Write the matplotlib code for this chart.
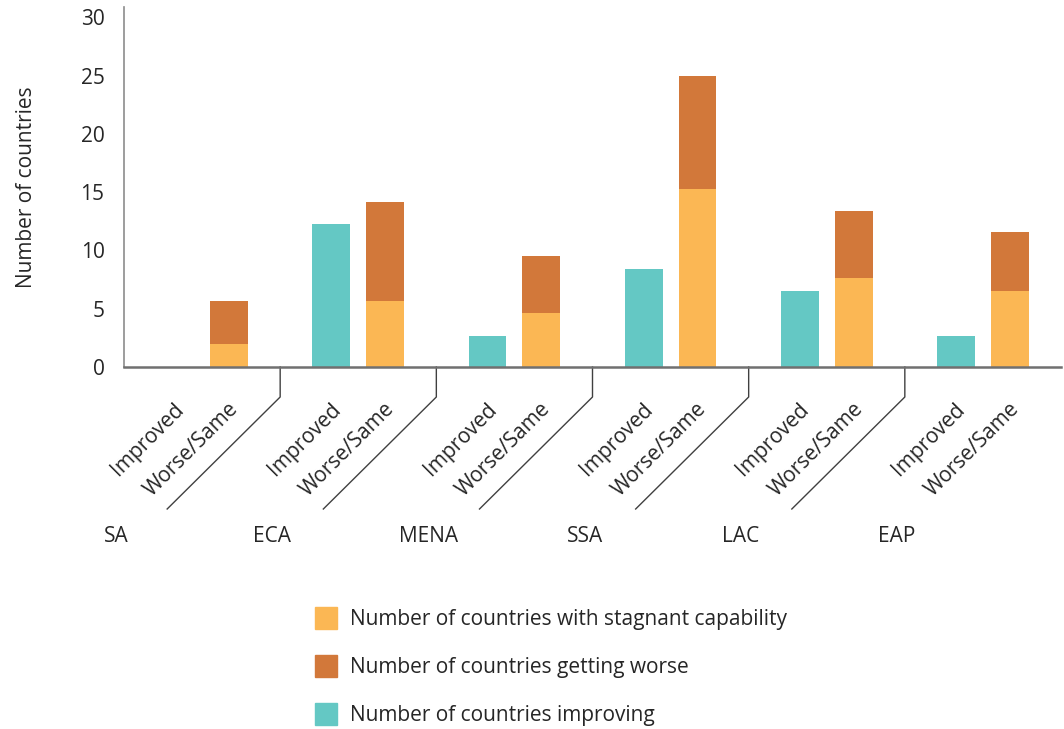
import matplotlib
matplotlib.use("Agg")
import matplotlib.pyplot as plt
from matplotlib.patches import Rectangle
import matplotlib.transforms as mtransforms

plt.rcParams['font.family'] = ['Open Sans', 'DejaVu Sans']

regions = ["SA", "ECA", "MENA", "SSA", "LAC", "EAP"]
sub_labels = ["Improved", "Worse/Same"]
improving = [0.0, 12.3, 2.7, 8.45, 6.55, 2.7]
stagnant = [1.95, 5.7, 4.6, 15.3, 7.6, 6.5]
worse = [3.75, 8.5, 4.95, 9.65, 5.8, 5.05]

legend_labels = ["Number of countries with stagnant capability",
                 "Number of countries getting worse",
                 "Number of countries improving"]

c_stag = "#FBB754"
c_worse = "#D2783A"
c_impr = "#64C8C4"
text_c = "#262626"

W, H = 1064, 729
fig = plt.figure(figsize=(W / 100, H / 100), dpi=100)
ax_left, ax_right, ax_bottom, ax_top = 124, 1061, 367, 7
ax = fig.add_axes([ax_left / W, 1 - ax_bottom / H,
                   (ax_right - ax_left) / W, (ax_bottom - ax_top) / H])

off = 0.1725
bw = 0.243
n = len(regions)
xi = [g - off for g in range(n)]
xw = [g + off for g in range(n)]

ax.bar(xi, improving, width=bw, color=c_impr, zorder=2)
ax.bar(xw, stagnant, width=bw, color=c_stag, zorder=2)
ax.bar(xw, worse, width=bw, bottom=stagnant, color=c_worse, zorder=2)

ax.set_xlim(-0.5, n - 0.5)
ax.set_ylim(0, 30.9)
ax.set_yticks(range(0, 31, 5))
ax.set_xticks([])
ax.tick_params(axis='y', length=0, pad=14, labelsize=15, labelcolor=text_c)

for s in ["top", "right"]:
    ax.spines[s].set_visible(False)
ax.spines["left"].set_color("#8c8c8c")
ax.spines["left"].set_linewidth(1.2)
ax.spines["bottom"].set_color("#707070")
ax.spines["bottom"].set_linewidth(1.8)
ax.spines["bottom"].set_zorder(3)

ax.set_ylabel("Number of countries", fontsize=15, color=text_c, labelpad=31)

trans = mtransforms.blended_transform_factory(ax.transData, ax.transAxes)
axh = ax_bottom - ax_top
px_per_unit = (ax_right - ax_left) / n

# rotated sub-category labels
for g in range(n):
    for x, lab in ((xi[g], sub_labels[0]), (xw[g], sub_labels[1])):
        ax.text(x + 6 / px_per_unit, -39 / axh, lab, transform=trans, rotation=45,
                rotation_mode='anchor', ha='right', va='center',
                fontsize=15, color=text_c, clip_on=False)
    ax.text(g - 0.55, -170 / axh, regions[g], transform=trans,
            ha='center', va='center', fontsize=15, color=text_c, clip_on=False)

# group separators: short drop then diagonal
for g in range(n - 1):
    xs = g + 0.5
    ax.plot([xs, xs, xs - 113 / px_per_unit], [0, -30 / axh, -142 / axh],
            transform=trans, color="#404040", lw=1.0, clip_on=False)

# legend
leg_items = [(c_stag, legend_labels[0], 618),
             (c_worse, legend_labels[1], 666),
             (c_impr, legend_labels[2], 714)]
for col, lab, yc in leg_items:
    fig.patches.append(Rectangle((315 / W, 1 - (yc + 11) / H), 22 / W, 22 / H,
                                 transform=fig.transFigure, color=col))
    fig.text(350 / W, 1 - (yc + 2) / H, lab, ha='left', va='center',
             fontsize=15, color=text_c)

fig.savefig("out.png", dpi=100)
